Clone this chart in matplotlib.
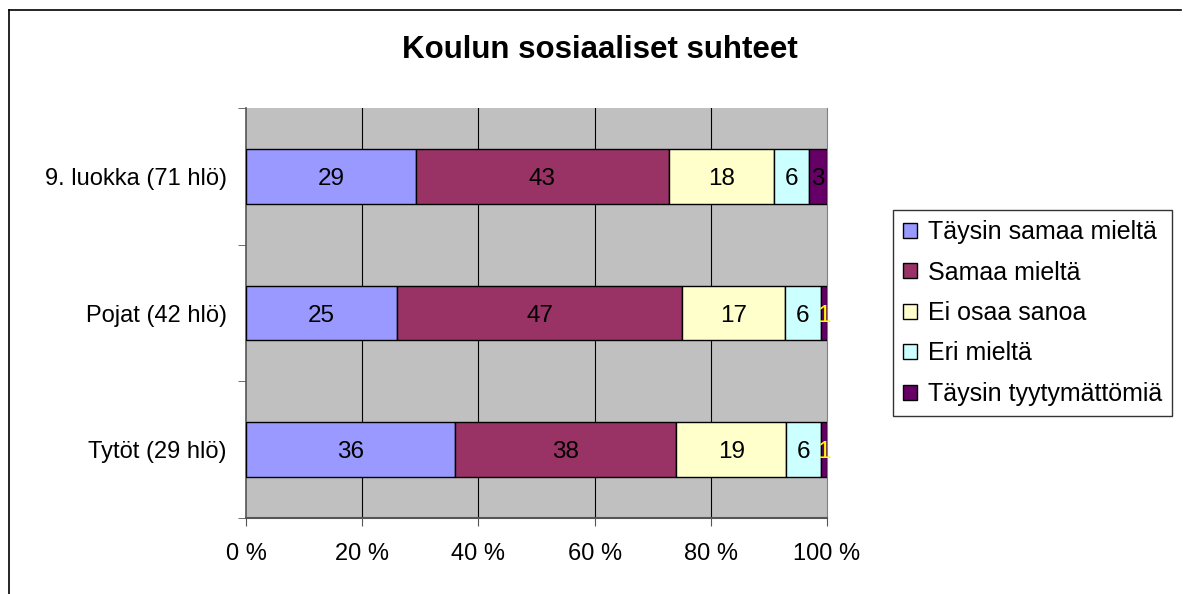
import matplotlib.pyplot as plt
import numpy as np

plt.rcParams['font.family'] = ['Liberation Sans', 'DejaVu Sans']

groups = ["9. luokka (71 hlö)", "Pojat (42 hlö)", "Tytöt (29 hlö)"]
series = ["Täysin samaa mieltä", "Samaa mieltä", "Ei osaa sanoa",
          "Eri mieltä", "Täysin tyytymättömiä"]
values = np.array([
    [29, 43, 18, 6, 3],
    [25, 47, 17, 6, 1],
    [36, 38, 19, 6, 1],
], dtype=float)
colors = ["#9999FF", "#993366", "#FFFFCC", "#CCFFFF", "#660066"]
label_colors = [
    ["black", "black", "black", "black", "black"],
    ["black", "black", "black", "black", "#FFFF00"],
    ["black", "black", "black", "black", "#FFFF00"],
]

fig = plt.figure(figsize=(11.85, 5.94), dpi=100)
ax = fig.add_axes([246 / 1185, 1 - 518 / 594, 581 / 1185, 410 / 594])
ax.set_facecolor("#C0C0C0")

# outer chart frame
fig.add_artist(plt.Line2D([9 / 1185, 9 / 1185], [0, 1 - 10 / 594], color="black", lw=1.2))
fig.add_artist(plt.Line2D([9 / 1185, 1181 / 1185], [1 - 10 / 594, 1 - 10 / 594], color="black", lw=1.2))

pct = values / values.sum(axis=1, keepdims=True) * 100
y = np.arange(len(groups))
left = np.zeros(len(groups))
for j, name in enumerate(series):
    ax.barh(y, pct[:, j], left=left, height=0.4, color=colors[j],
            edgecolor="black", linewidth=1, label=name, zorder=3)
    for i in range(len(groups)):
        ax.text(left[i] + pct[i, j] / 2, y[i], "%d" % values[i, j],
                ha="center", va="center_baseline", fontsize=17.5,
                color=label_colors[i][j], zorder=4)
    left += pct[:, j]

ax.set_xlim(0, 100)
ax.set_ylim(len(groups) - 0.5, -0.5)
ax.set_xticks(np.arange(0, 101, 20))
ax.set_xticklabels(["%d %%" % v for v in range(0, 101, 20)], fontsize=17)
ax.set_yticks(y)
ax.set_yticklabels(groups, fontsize=17)
ax.set_yticks(np.arange(-0.5, len(groups), 1), minor=True)
ax.tick_params(axis="y", which="major", length=0, pad=14)
ax.tick_params(axis="y", which="minor", length=6, color="#555555")
ax.tick_params(axis="x", length=6, color="#555555", pad=12)

for v in [20, 40, 60, 80]:
    ax.axvline(v, color="black", lw=0.8, zorder=1)

ax.spines["top"].set_visible(False)
ax.spines["right"].set_color("#808080")
ax.spines["left"].set_color("#555555")
ax.spines["bottom"].set_color("#555555")
ax.spines["left"].set_linewidth(1.2)
ax.spines["bottom"].set_linewidth(1.5)

fig.text(600 / 1185, 1 - 50 / 594, "Koulun sosiaaliset suhteet",
         ha="center", va="center", fontsize=22.5, fontweight="bold")

leg = fig.legend(loc="center left", bbox_to_anchor=(893 / 1185, 1 - 313 / 594),
                 fontsize=18, frameon=True, fancybox=False, edgecolor="black",
                 handlelength=0.55, handleheight=0.55, handletextpad=0.45,
                 labelspacing=0.66, borderpad=0.4, borderaxespad=0)
leg.get_frame().set_linewidth(1)

fig.savefig("out.png", dpi=100)
